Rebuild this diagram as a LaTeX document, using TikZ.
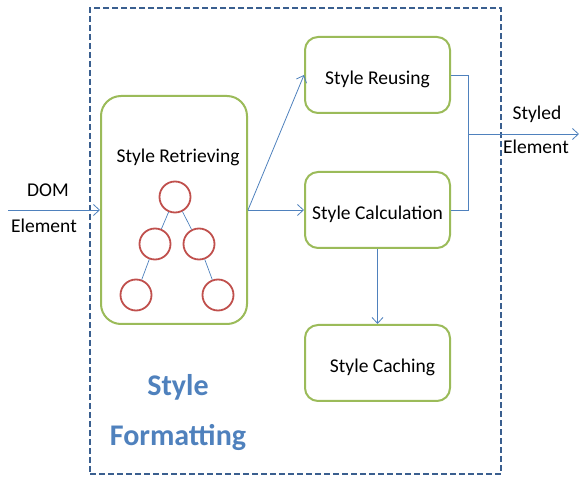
\documentclass[tikz,border=0pt]{standalone}
\usepackage{fontspec}
\setmainfont{Carlito}
\usepackage{tikz}
\usetikzlibrary{positioning, arrows.meta}
\definecolor{boxgreen}{HTML}{9BBB59}
\definecolor{treered}{HTML}{C0504D}
\definecolor{linkblue}{HTML}{4F81BD}
\definecolor{frameblue}{HTML}{3A5F8F}
\tikzstyle{stage} = [rectangle, rounded corners=13pt, minimum width=145pt, minimum height=76pt, inner sep=0pt, text centered, text height=19pt, text depth=0pt, draw=boxgreen, line width=2pt, font=\fontsize{19.5}{22}\selectfont]
\tikzstyle{bigstage} = [stage, rounded corners=20pt, minimum width=146pt, minimum height=228pt]
\tikzstyle{leaf} = [circle, minimum size=31pt, inner sep=0pt, draw=treered, line width=1.8pt]
\tikzstyle{frame} = [rectangle, draw=frameblue, line width=1.8pt, dash pattern=on 6pt off 3pt, minimum width=411pt, minimum height=466pt, inner sep=0pt]
\tikzstyle{branch} = [draw=linkblue, line width=0.7pt]
\tikzstyle{arrow} = [draw=linkblue, line width=0.8pt, -{Straight Barb[length=6pt, width=11pt]}]
\tikzstyle{iotext} = [font=\fontsize{19.5}{22}\selectfont, inner sep=0pt]
\tikzstyle{heading} = [font=\fontsize{30}{34}\selectfont\bfseries, text=linkblue, inner sep=0pt]

\begin{document}
\begin{tikzpicture}[x=1pt, y=1pt]
	\useasboundingbox (0,0) rectangle (579,477);
	\node(formatting) [frame] at (295.5,236) {};
	\node(retrieve) [bigstage] at (174,267) {};
	\node(calc) [stage, right=56pt of retrieve] {Style Calculation};
	\node(reuse) [stage, above=57pt of calc] {Style Reusing};
	\node(cache) [stage, below=75pt of calc] {\hspace*{10pt}Style Caching};
	
	\node(retrieve_title) [iotext] at (178,320) {Style Retrieving};
	\node(root) [leaf] at (175,280) {};
	\node(mid_left) [leaf] at (155,233) {};
	\node(mid_right) [leaf] at (199,233) {};
	\node(low_left) [leaf] at (136,182) {};
	\node(low_right) [leaf] at (218,182) {};
	
	\node(dom_top) [iotext] at (48,287) {DOM};
	\node(dom_bottom) [iotext] at (44,251) {Element};
	\node(styled_top) [iotext] at (537,363) {Styled};
	\node(styled_bottom) [iotext] at (536,330) {Element};
	\node(heading_top) [heading] at (178,90) {Style};
	\node(heading_bottom) [heading] at (178,40) {Formatting};
	
	\coordinate(dom_in) at (8,267);
	\coordinate(merge) at (468,343);
	\coordinate(styled_out) at (579,343);
	
	\draw[branch] (root) -- (mid_left);
	\draw[branch] (root) -- (mid_right);
	\draw[branch] (mid_left) -- (low_left);
	\draw[branch] (mid_right) -- (low_right);
	
	\draw[arrow] (dom_in) -- (retrieve);
	\draw[arrow] (retrieve.east) -- (reuse.west);
	\draw[arrow] (retrieve) -- (calc);
	\draw[arrow] (calc) -- (cache);
	\draw[branch] (reuse.east) -| (merge);
	\draw[branch] (calc.east) -| (merge);
	\draw[arrow] (merge) -- (styled_out);
\end{tikzpicture}
\end{document}
